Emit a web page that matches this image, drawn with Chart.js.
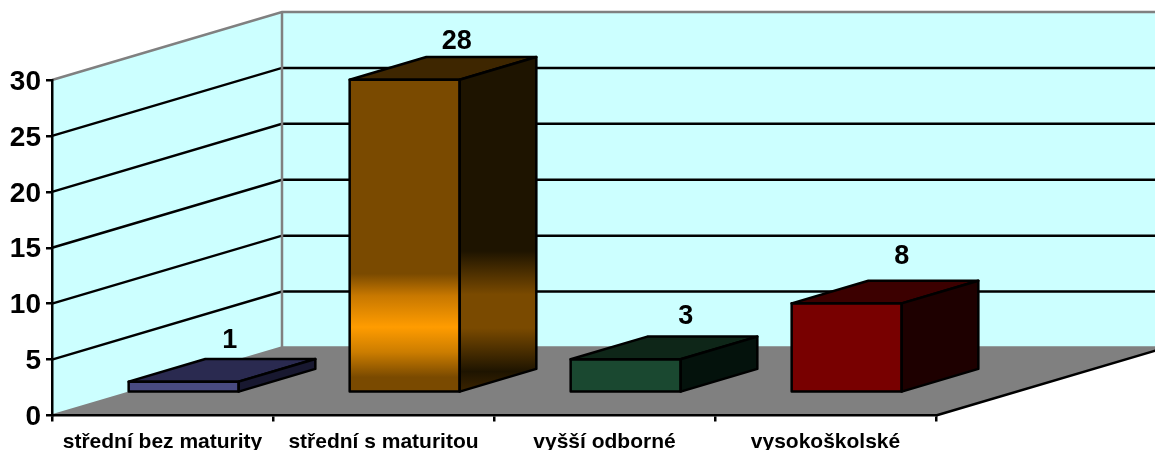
<!DOCTYPE html>
<html lang="en">
<head>
  <meta charset="UTF-8">
  <title>Vzdělání</title>
  <script src="https://cdn.jsdelivr.net/npm/chart.js"></script>
  <style>
    html, body {
      margin: 0;
      padding: 0;
      background: #fff;
    }
    canvas {
      display: block;
    }
  </style>
</head>
<body>
  <canvas id="eduChart" width="1155" height="450"></canvas>

  <script>
    const categories = ["střední bez maturity", "střední s maturitou", "vyšší odborné", "vysokoškolské"];
    const counts = [1, 28, 3, 8];
    const axisTicks = [0, 5, 10, 15, 20, 25, 30];

    // face colours per bar
    const frontColors = ["#484a80", "#7a4a00", "#1a4830", "#780000"];
    const topColors = ["#2a2a50", "#3e2600", "#0e2618", "#3c0000"];
    const sideColors = ["#181830", "#1e1400", "#04120c", "#1e0000"];

    // fake 3D: wall depth is 3 times the bar depth
    const depthX = 230;
    const depthY = 68;
    const barDepthX = depthX / 3;
    const barDepthY = depthY / 3;
    const barWidth = 110;

    // hand placed value labels, relative to the bar's back top edge
    const labelNudgeX = [46, 52, 60, 55];
    const labelNudgeY = [-18, -15, -20, -24];

    function shiftX(chart) {
      const catWidth = chart.chartArea.width / categories.length;
      return barDepthX - (catWidth - barWidth) / 2;
    }

    function poly(ctx, pts, fill, stroke, lw) {
      ctx.beginPath();
      pts.forEach((p, i) => i ? ctx.lineTo(p[0], p[1]) : ctx.moveTo(p[0], p[1]));
      ctx.closePath();
      if (fill) {
        ctx.fillStyle = fill;
        ctx.fill();
      }
      if (stroke) {
        ctx.strokeStyle = stroke;
        ctx.lineWidth = lw;
        ctx.stroke();
      }
    }

    // tall bar has a banded gradient
    function frontFill(context) {
      const i = context.dataIndex;
      if (counts[i] < 20) return frontColors[i];
      const y = context.chart.scales.y;
      const g = context.chart.ctx.createLinearGradient(0, y.getPixelForValue(counts[i]), 0, y.getPixelForValue(0));
      g.addColorStop(0, "#7a4a00");
      g.addColorStop(0.62, "#7a4a00");
      g.addColorStop(0.69, "#c87800");
      g.addColorStop(0.79, "#ff9c00");
      g.addColorStop(0.87, "#cc7d00");
      g.addColorStop(0.95, "#7a4a00");
      g.addColorStop(1, "#7a4a00");
      return g;
    }

    function sideFill(ctx, i, top, bottom) {
      if (counts[i] < 20) return sideColors[i];
      const g = ctx.createLinearGradient(0, top, 0, bottom);
      g.addColorStop(0, "#1e1400");
      g.addColorStop(0.58, "#1e1400");
      g.addColorStop(0.71, "#7a4a00");
      g.addColorStop(0.81, "#7a4a00");
      g.addColorStop(0.94, "#1e1400");
      g.addColorStop(1, "#3c2400");
      return g;
    }

    const walls3d = {
      id: "walls3d",
      beforeDraw(chart) {
        const { ctx, chartArea: a, scales: { y } } = chart;
        const l = a.left, r = a.right;
        const y0 = y.getPixelForValue(0), yMax = y.getPixelForValue(30);

        ctx.save();
        // left wall, back wall, floor
        poly(ctx, [[l, y0], [l, yMax], [l + depthX, yMax - depthY], [l + depthX, y0 - depthY]], "#ccffff");
        poly(ctx, [[l + depthX, yMax - depthY], [r + depthX, yMax - depthY], [r + depthX, y0 - depthY], [l + depthX, y0 - depthY]], "#ccffff");
        poly(ctx, [[l, y0], [r, y0], [r + depthX, y0 - depthY], [l + depthX, y0 - depthY]], "#808080");

        // gridlines follow the walls
        ctx.lineWidth = 2.5;
        y.ticks.forEach(t => {
          const py = y.getPixelForValue(t.value);
          const edge = t.value === 30 || t.value === 0;
          ctx.strokeStyle = edge ? "#808080" : "#000";
          ctx.beginPath();
          ctx.moveTo(l, py);
          ctx.lineTo(l + depthX, py - depthY);
          ctx.lineTo(r + depthX, py - depthY);
          ctx.stroke();
        });

        ctx.strokeStyle = "#808080";
        ctx.beginPath();
        ctx.moveTo(l + depthX, yMax - depthY);
        ctx.lineTo(l + depthX, y0 - depthY);
        ctx.stroke();

        // front right edge of the floor
        ctx.strokeStyle = "#000";
        ctx.beginPath();
        ctx.moveTo(r, y0);
        ctx.lineTo(r + depthX, y0 - depthY);
        ctx.stroke();
        ctx.restore();
      },
      beforeDatasetsDraw(chart) {
        chart.ctx.save();
        chart.ctx.translate(shiftX(chart), -barDepthY);
      },
      afterDatasetsDraw(chart) {
        const ctx = chart.ctx;
        const bars = chart.getDatasetMeta(0).data;

        bars.forEach((b, i) => {
          const x0 = b.x - b.width / 2, x1 = b.x + b.width / 2;
          const top = b.y, base = b.base;
          const dx = barDepthX, dy = barDepthY;
          ctx.lineJoin = "round";
          poly(ctx, [[x0, top], [x1, top], [x1 + dx, top - dy], [x0 + dx, top - dy]], topColors[i], "#000", 2.5);
          poly(ctx, [[x1, top], [x1 + dx, top - dy], [x1 + dx, base - dy], [x1, base]], sideFill(ctx, i, top - dy, base), "#000", 2.5);
          poly(ctx, [[x0, top], [x1, top], [x1, base], [x0, base]], null, "#000", 2.5);

          ctx.fillStyle = "#000";
          ctx.font = "bold 27px 'Liberation Sans', Arial, sans-serif";
          ctx.textAlign = "center";
          ctx.textBaseline = "middle";
          ctx.fillText(counts[i], b.x + labelNudgeX[i], top - dy + labelNudgeY[i]);
        });
        ctx.restore();
      }
    };

    new Chart(document.getElementById("eduChart"), {
      type: "bar",
      data: {
        labels: categories,
        datasets: [{
          data: counts,
          backgroundColor: frontFill,
          borderWidth: 0,
          barThickness: barWidth,
          clip: false
        }]
      },
      options: {
        responsive: false,
        animation: false,
        layout: { padding: { top: 80, right: 219, bottom: 0, left: 0 } },
        plugins: {
          legend: { display: false },
          title: { display: false },
          tooltip: { enabled: false }
        },
        scales: {
          x: {
            afterFit: s => { s.height = 34.5; },
            border: { color: "#000", width: 2.5 },
            grid: { drawOnChartArea: false, color: "#000", lineWidth: 2.5, tickLength: 6 },
            ticks: {
              color: "#000",
              padding: 8,
              maxRotation: 0,
              autoSkip: false,
              font: { family: "'Liberation Sans', Arial, sans-serif", size: 21, weight: "bold" }
            }
          },
          y: {
            min: 0,
            max: 30,
            afterFit: s => { s.width = 52; },
            afterBuildTicks: s => { s.ticks = axisTicks.map(v => ({ value: v })); },
            border: { color: "#000", width: 2.5 },
            grid: { drawOnChartArea: false, color: "#000", lineWidth: 2.5, tickLength: 6 },
            ticks: {
              color: "#000",
              padding: 5,
              labelOffset: 2,
              font: { family: "'Liberation Sans', Arial, sans-serif", size: 28, weight: "bold" }
            }
          }
        }
      },
      plugins: [walls3d]
    });
  </script>
</body>
</html>
